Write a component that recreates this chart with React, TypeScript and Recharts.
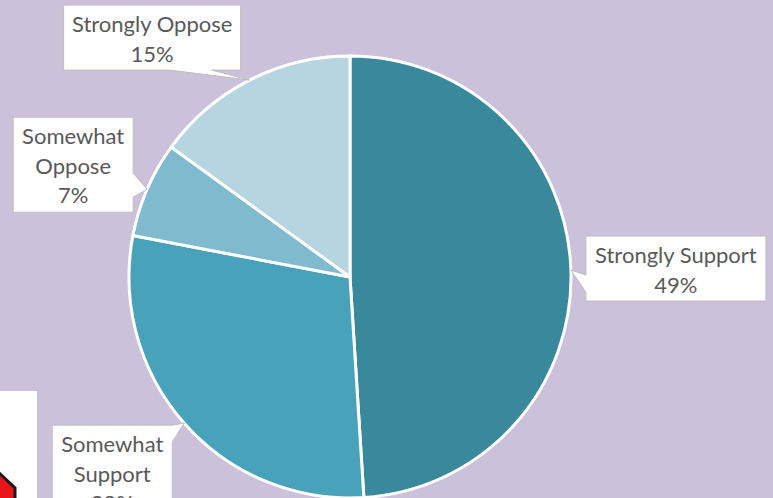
import React from "react"
import { PieChart, Pie, Cell } from "recharts"

const categories = ["Strongly Support", "Somewhat Support", "Somewhat Oppose", "Strongly Oppose"]
const shares = [49, 29, 7, 15]
const sliceColors = ["#39889B", "#48A2BA", "#7FBACE", "#B7D5E0"]

// label text split into lines, per slice
const labelLines = [["Strongly Support"], ["Somewhat", "Support"], ["Somewhat", "Oppose"], ["Strongly Oppose"]]

// callout box placement relative to the slice tip (midAngle on outer edge)
const calloutLayout = [
  { dx: 15, dy: -34, w: 180, h: 65, side: "left", b0: 39, b1: 56 },
  { dx: -132, dy: 2, w: 120, h: 95, side: "right", b0: 0, b1: 17 },
  { dx: -134, dy: -72, w: 120, h: 95, side: "right", b0: 56, b1: 80 },
  { dx: -186, dy: -75, w: 177, h: 65, side: "bottom", b0: 106, b1: 148 },
]

const data = categories.map((name, i) => ({ name, value: shares[i] }))

const RADIAN = Math.PI / 180

function calloutPath(x: number, y: number, w: number, h: number, side: string, b0: number, b1: number, tx: number, ty: number) {
  if (side === "left") {
    return `M${x},${y} H${x + w} V${y + h} H${x} V${y + b1} L${tx},${ty} L${x},${y + b0} Z`
  }
  if (side === "right") {
    return `M${x},${y} H${x + w} V${y + b0} L${tx},${ty} L${x + w},${y + b1} V${y + h} H${x} Z`
  }
  return `M${x},${y} H${x + w} V${y + h} H${x + b1} L${tx},${ty} L${x + b0},${y + h} H${x} Z`
}

function renderCallout(props: any) {
  const { cx, cy, midAngle, outerRadius, index, value } = props
  const tx = cx + outerRadius * Math.cos(-midAngle * RADIAN)
  const ty = cy + outerRadius * Math.sin(-midAngle * RADIAN)
  const lay = calloutLayout[index]
  const x = tx + lay.dx
  const y = ty + lay.dy
  const lines = [...labelLines[index], `${value}%`]
  return (
    <g key={`callout-${index}`}>
      <path
        d={calloutPath(x, y, lay.w, lay.h, lay.side, lay.b0, lay.b1, tx, ty)}
        fill="#FFFFFF"
        stroke="#BFBFBF"
        strokeWidth={1}
      />
      {lines.map((t, j) => (
        <text
          key={j}
          x={x + lay.w / 2}
          y={y + 18.5 + j * 29.5}
          textAnchor="middle"
          dominantBaseline="central"
          fill="#595959"
          fontSize={22}
          fontFamily="Lato, 'Open Sans', sans-serif"
        >
          {t}
        </text>
      ))}
    </g>
  )
}

export default function App() {
  return (
    <div style={{ position: "relative", width: 773, height: 498, background: "#CBC1DB", overflow: "hidden" }}>
      <style>{"body{margin:0}"}</style>
      <PieChart width={773} height={498} margin={{ top: 0, right: 0, bottom: 0, left: 0 }}>
        <Pie
          data={data}
          dataKey="value"
          nameKey="name"
          cx={350}
          cy={277}
          outerRadius={221}
          startAngle={90}
          endAngle={-270}
          stroke="#FFFFFF"
          strokeWidth={3}
          labelLine={false}
          label={renderCallout}
          isAnimationActive={false}
        >
          {data.map((d, i) => (
            <Cell key={d.name} fill={sliceColors[i]} />
          ))}
        </Pie>
      </PieChart>
      <svg width={773} height={498} style={{ position: "absolute", left: 0, top: 0, pointerEvents: "none" }}>
        <rect x={0} y={391} width={37} height={107} fill="#FFFFFF" />
        <polygon points="-4,470 15,488 15,502 -4,502" fill="#E8151B" stroke="#1A1A1A" strokeWidth={3} />
      </svg>
    </div>
  )
}
